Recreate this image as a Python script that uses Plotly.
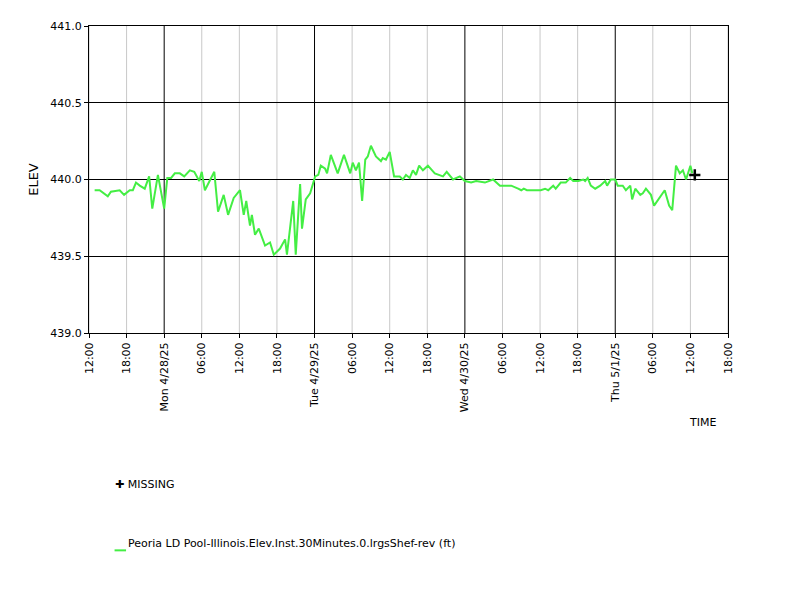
import pandas as pd
import plotly.graph_objects as go

START = pd.Timestamp("2025-04-27 12:00")

# hours after 4/27 12:00 and pool elevation (ft)
hours = [0.9, 1.7, 3.0, 3.5, 4.9, 5.6, 6.5, 7.0, 7.5, 8.1, 8.9, 9.6, 10.1, 11.0, 12.0, 12.5,
         13.1, 13.7, 14.5, 15.2, 16.1, 16.8, 17.6, 18.0, 18.5, 20.0, 20.6, 21.5, 22.2, 23.1,
         24.1, 24.7, 25.1, 25.7, 26.0, 26.5, 27.1, 28.1, 28.9, 29.5, 30.5, 31.3, 31.6, 32.6,
         33.0, 33.7, 34.0, 34.6, 35.3, 36.1, 36.6, 37.0, 37.7, 38.0, 38.6, 39.7, 40.7, 41.7,
         42.1, 42.6, 43.1, 43.6, 44.1, 44.5, 45.0, 45.8, 46.6, 46.9, 47.4, 48.0, 48.7, 49.6,
         50.1, 50.6, 51.2, 51.7, 52.2, 52.7, 53.3, 54.1, 55.2, 56.5, 57.1, 58.1, 59.2, 60.0,
         61.0, 61.8, 63.2, 64.5, 65.6, 66.4, 67.4, 68.5, 69.0, 69.4, 69.9, 70.6, 71.2, 72.1,
         72.8, 73.3, 74.1, 74.5, 75.3, 76.1, 76.8, 77.3, 78.1, 78.9, 79.2, 79.6, 80.1, 80.8,
         81.6, 82.4, 82.7, 83.3, 84.0, 84.4, 85.2, 85.7, 86.4, 86.7, 87.2, 88.0, 88.4, 88.9,
         89.7, 90.2, 91.9, 92.6, 93.1, 93.7, 94.3, 94.8, 95.3, 96.0, 96.3]
elev = [439.93, 439.93, 439.89, 439.92, 439.93, 439.90, 439.93, 439.93, 439.98, 439.96, 439.94,
        440.02, 439.81, 440.03, 439.81, 440.01, 440.01, 440.04, 440.04, 440.02, 440.06, 440.05,
        439.99, 440.05, 439.93, 440.05, 439.79, 439.90, 439.77, 439.88, 439.93, 439.77, 439.86,
        439.70, 439.77, 439.64, 439.68, 439.57, 439.59, 439.51, 439.55, 439.61, 439.51, 439.86,
        439.51, 439.97, 439.68, 439.87, 439.91, 440.02, 440.03, 440.09, 440.07, 440.04, 440.16,
        440.04, 440.16, 440.04, 440.11, 440.06, 440.11, 439.86, 440.13, 440.15, 440.22, 440.15,
        440.12, 440.14, 440.13, 440.18, 440.02, 440.02, 440.00, 440.03, 440.01, 440.06, 440.03,
        440.09, 440.06, 440.09, 440.04, 440.02, 440.05, 440.00, 440.02, 439.99, 439.98, 439.99,
        439.98, 440.00, 439.96, 439.96, 439.96, 439.94, 439.93, 439.94, 439.93, 439.93, 439.93,
        439.93, 439.94, 439.93, 439.96, 439.94, 439.98, 439.98, 440.01, 439.99, 439.99, 440.00,
        439.99, 440.01, 439.96, 439.94, 439.96, 439.99, 439.96, 440.00, 440.00, 439.96, 439.96,
        439.93, 439.96, 439.87, 439.94, 439.90, 439.91, 439.94, 439.90, 439.83, 439.93, 439.83,
        439.80, 440.09, 440.04, 440.06, 440.00, 440.09, 440.04]
missing_hours = [96.7]
missing_elev = [440.03]

tick_hours = list(range(0, 103, 6))
tick_text = ["12:00", "18:00", "Mon 4/28/25", "06:00", "12:00", "18:00", "Tue 4/29/25", "06:00",
             "12:00", "18:00", "Wed 4/30/25", "06:00", "12:00", "18:00", "Thu 5/1/25", "06:00",
             "12:00", "18:00"]

to_time = lambda hs: [START + pd.Timedelta(hours=h) for h in hs]
tick_vals = to_time(tick_hours)

fig = go.Figure()
fig.add_trace(go.Scatter(x=to_time(hours), y=elev, mode="lines",
                         line=dict(color="#44ee44", width=2), showlegend=False))
fig.add_trace(go.Scatter(x=to_time(missing_hours), y=missing_elev, mode="markers",
                         marker=dict(symbol="cross-thin", size=8, line=dict(color="black", width=2.5)),
                         showlegend=False))

# gridlines: gray every 6h, black at midnight
for i, t in enumerate(tick_vals):
    fig.add_shape(type="line", x0=t, x1=t, y0=0, y1=1, yref="paper", layer="below",
                  line=dict(color="black" if i % 4 == 2 else "#c8c8c8", width=1))

fig.update_xaxes(range=[tick_vals[0], tick_vals[-1]], tickvals=tick_vals, ticktext=tick_text,
                 tickangle=-90, showgrid=False, showline=True, linecolor="black", mirror=True,
                 ticks="outside", ticklen=4, tickcolor="black", automargin=False)
fig.update_yaxes(range=[439, 441], dtick=0.5, tickformat=".1f", showgrid=True, gridcolor="black",
                 showline=True, linecolor="black", mirror=True, ticks="outside", ticklen=4,
                 tickcolor="black", zeroline=False, automargin=False,
                 title=dict(text="ELEV", standoff=8))

fig.add_annotation(text="TIME", x=0.96, y=-0.32, xref="paper", yref="paper", showarrow=False,
                   xanchor="center")
fig.add_annotation(text="✚ MISSING", x=0.038, y=-0.52, xref="paper", yref="paper",
                   showarrow=False, xanchor="left")
fig.add_shape(type="line", xref="paper", yref="paper", x0=0.04, x1=0.058, y0=-0.708, y1=-0.708,
              line=dict(color="#44ee44", width=2))
fig.add_annotation(text="Peoria LD Pool-Illinois.Elev.Inst.30Minutes.0.lrgsShef-rev (ft)",
                   x=0.058, y=-0.713, xref="paper", yref="paper", showarrow=False, xanchor="left")

fig.update_layout(width=800, height=600, margin=dict(l=81, r=80, t=18, b=275),
                  plot_bgcolor="white", paper_bgcolor="white",
                  font=dict(family="DejaVu Sans", size=11, color="black"))

fig.write_html("out.html")
